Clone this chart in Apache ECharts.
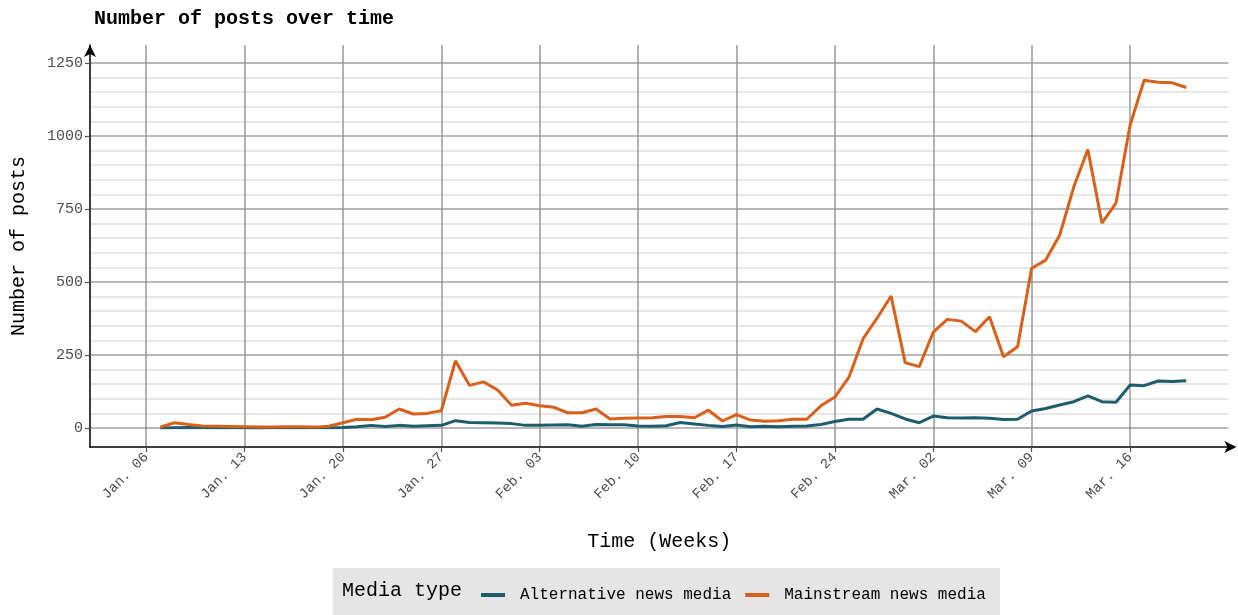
<!DOCTYPE html>
<html>
<head>
<meta charset="utf-8">
<script src="https://cdn.jsdelivr.net/npm/echarts@6/dist/echarts.min.js"></script>
<style>
  html, body { margin: 0; padding: 0; background: #fff; }
  #chart { width: 1238px; height: 615px; }
</style>
</head>
<body>
<div id="chart"></div>
<script>
// daily counts, 2020-01-07 .. 2020-03-20
var firstDay = '2020-01-07';
var alternative = [
  0, 1, 2, 1, 1, 1, 1, 0, 1, 1, 2, 1, 1, 2, 4, 9, 5, 9, 6, 8, 9, 25, 19, 18, 17,
  15, 9, 9, 10, 11, 6, 12, 11, 11, 7, 6, 8, 19, 14, 9, 5, 10, 4, 6, 4, 6, 7, 12, 22, 30, 30, 65, 50, 31,
  18, 41, 35, 34, 35, 33, 29, 30, 58, 67, 79, 90, 110, 90, 88, 147, 145, 161, 159, 162
];
var mainstream = [
  3, 18, 12, 7, 6, 5, 4, 3, 3, 4, 4, 3, 6, 18, 30, 28, 37, 65, 48, 50, 59, 230, 146, 158, 130,
  78, 85, 76, 71, 52, 52, 65, 31, 33, 34, 35, 39, 39, 35, 61, 24, 46, 27, 23, 25, 30, 30, 76, 106, 174, 305, 376, 452, 224,
  210, 328, 372, 366, 330, 381, 244, 278, 547, 575, 661, 826, 954, 702, 770, 1036, 1191, 1184, 1182, 1166
];
// weekly ticks on the time axis
var weekTicks = ['2020-01-06', '2020-01-13', '2020-01-20', '2020-01-27', '2020-02-03', '2020-02-10',
  '2020-02-17', '2020-02-24', '2020-03-02', '2020-03-09', '2020-03-16'];
var weekLabels = ['Jan. 06', 'Jan. 13', 'Jan. 20', 'Jan. 27', 'Feb. 03', 'Feb. 10',
  'Feb. 17', 'Feb. 24', 'Mar. 02', 'Mar. 09', 'Mar. 16'];
// axis runs a few days either side of the data
var axisStart = '2020-01-02';
var axisEnd = '2020-03-23';

var FONT = "'Liberation Mono', 'Courier New', monospace";
var ALT_COLOR = '#1b5d6c';
var MAIN_COLOR = '#d9601a';

function dayList(from, to) {
  var out = [];
  var d = new Date(from + 'T00:00:00Z');
  var end = new Date(to + 'T00:00:00Z');
  while (d <= end) {
    out.push(d.toISOString().slice(0, 10));
    d.setUTCDate(d.getUTCDate() + 1);
  }
  return out;
}
function isWeekTick(index, value) {
  return weekTicks.indexOf(value) >= 0;
}
function weekLabel(value) {
  return weekLabels[weekTicks.indexOf(value)];
}
function pairs(values) {
  var days = dayList(firstDay, axisEnd);
  return values.map(function (v, i) { return [days[i], v]; });
}

var axisDays = dayList(axisStart, axisEnd);
var gridLeft = 90, gridRight = 9.6;

var chart = echarts.init(document.getElementById('chart'));
chart.setOption({
  animation: false,
  backgroundColor: '#fff',
  title: {
    text: 'Number of posts over time',
    left: 89, top: 4,
    textStyle: { fontFamily: FONT, fontSize: 20, fontWeight: 'bold', color: '#000' }
  },
  graphic: [
    { type: 'rect', left: 333, top: 568, shape: { width: 667, height: 50 }, style: { fill: '#e5e5e5' }, z: 0 },
    { type: 'text', left: 342, top: 581, style: { text: 'Media type', font: '20px ' + FONT, fill: '#000' }, z: 10 }
  ],
  legend: {
    left: 476, top: 582,
    icon: 'rect', itemWidth: 24, itemHeight: 4, itemGap: 14,
    textStyle: { fontFamily: FONT, fontSize: 16, color: '#000', padding: [0, 0, 0, 10] },
    data: ['Alternative news media', 'Mainstream news media']
  },
  grid: [
    { left: gridLeft, right: gridRight, top: 63, bottom: 187, outerBoundsMode: 'none' },
    { left: gridLeft, right: gridRight, top: 45, bottom: 168, outerBoundsMode: 'none' }
  ],
  xAxis: [
    { type: 'category', gridIndex: 0, data: axisDays, boundaryGap: false, show: false },
    {
      type: 'category', gridIndex: 1, data: axisDays, boundaryGap: false,
      name: 'Time (Weeks)', nameLocation: 'middle', nameGap: 85,
      nameTextStyle: { fontFamily: FONT, fontSize: 20, color: '#000' },
      axisLine: { onZero: false, lineStyle: { color: '#000', width: 1.5 }, symbol: ['none', 'arrow'], symbolSize: [9, 12], symbolOffset: [0, 8] },
      axisTick: { interval: isWeekTick, length: 5, lineStyle: { color: '#555', width: 1.2 } },
      axisLabel: { interval: isWeekTick, formatter: weekLabel, rotate: 45, margin: 8, fontFamily: FONT, fontSize: 14, color: '#4d4d4d' },
      splitLine: { show: true, interval: isWeekTick, lineStyle: { color: '#999', width: 1.5 } }
    }
  ],
  yAxis: [
    {
      type: 'value', gridIndex: 0, min: 0, max: 1250, interval: 250,
      axisLine: { show: false },
      axisTick: { show: true, length: 5, lineStyle: { color: '#555', width: 1.2 } },
      axisLabel: { margin: 7, fontFamily: FONT, fontSize: 15, color: '#4d4d4d', formatter: function (v) { return String(v); } },
      splitLine: { lineStyle: { color: '#a0a0a0', width: 1.5 } },
      minorTick: { show: false, splitNumber: 5 },
      minorSplitLine: { show: true, lineStyle: { color: '#e0e0e0', width: 1.5 } }
    },
    {
      type: 'value', gridIndex: 1, min: -65, max: 1312,
      name: 'Number of posts', nameLocation: 'middle', nameGap: 61,
      nameTextStyle: { fontFamily: FONT, fontSize: 20, color: '#000' },
      axisLine: { show: true, onZero: false, lineStyle: { color: '#000', width: 1.5 }, symbol: ['none', 'arrow'], symbolSize: [9, 12] },
      axisTick: { show: false },
      axisLabel: { show: false },
      splitLine: { show: false }
    }
  ],
  series: [
    {
      name: 'Alternative news media', type: 'line', xAxisIndex: 0, yAxisIndex: 0,
      data: pairs(alternative), showSymbol: false, z: 3,
      lineStyle: { color: ALT_COLOR, width: 3 }, itemStyle: { color: ALT_COLOR }
    },
    {
      name: 'Mainstream news media', type: 'line', xAxisIndex: 0, yAxisIndex: 0,
      data: pairs(mainstream), showSymbol: false, z: 3,
      lineStyle: { color: MAIN_COLOR, width: 3 }, itemStyle: { color: MAIN_COLOR }
    }
  ]
});
</script>
</body>
</html>
